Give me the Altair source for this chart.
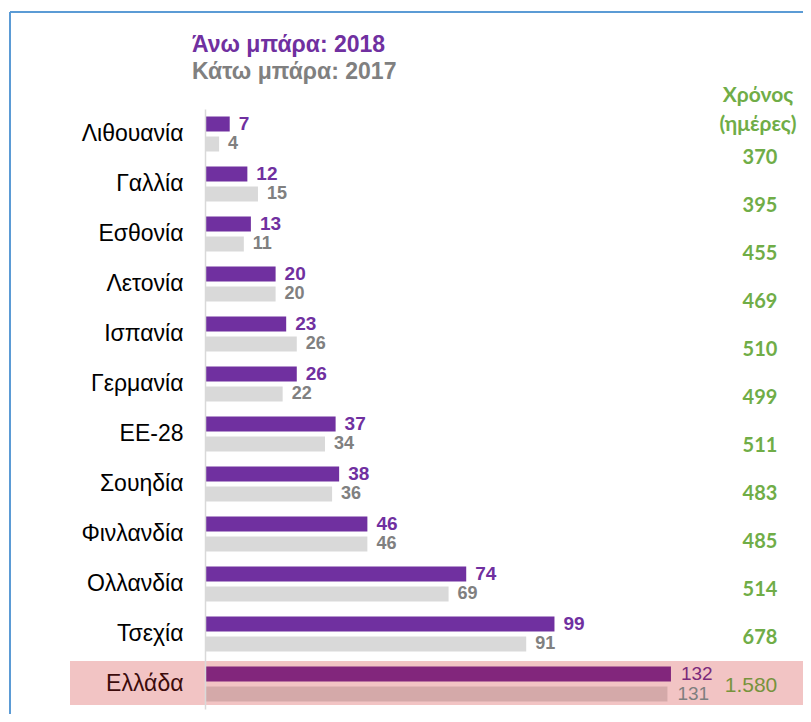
import altair as alt
import pandas as pd

countries = ["Λιθουανία", "Γαλλία", "Εσθονία", "Λετονία", "Ισπανία", "Γερμανία",
             "ΕΕ-28", "Σουηδία", "Φινλανδία", "Ολλανδία", "Τσεχία", "Ελλάδα"]
v2018 = [7, 12, 13, 20, 23, 26, 37, 38, 46, 74, 99, 132]
v2017 = [4, 15, 11, 20, 26, 22, 34, 36, 46, 69, 91, 131]
days = ["370", "395", "455", "469", "510", "499", "511", "483", "485", "514", "678", "1.580"]
legend_lines = ["Άνω μπάρα: 2018", "Κάτω μπάρα: 2017"]
days_header = ["Χρόνος", "(ημέρες)"]
highlight = "Ελλάδα"

rows = []
for c, a, b in zip(countries, v2018, v2017):
    rows.append({"country": c, "year": "2018", "value": a})
    rows.append({"country": c, "year": "2017", "value": b})
long = pd.DataFrame(rows)
long["key"] = long["year"] + long["country"].map(lambda c: "_gr" if c == highlight else "")
days_df = pd.DataFrame({"country": countries, "days": days})

W, H = 596, 600
PR, PB = 2, 5
xs = alt.Scale(domain=[0, W / 3.53], nice=False, zero=True)
ys = alt.Scale(domain=countries, paddingInner=0, paddingOuter=0)
yo = alt.Scale(domain=["2018", "2017"], paddingInner=0.25, paddingOuter=0.375)

FONT = "Liberation Sans"
GFONT = "Lato"

base = alt.Chart(long)

hl = alt.Chart(pd.DataFrame({"country": [highlight]})).mark_bar(
    color="#f2c4c4", size=44, yOffset=-1
).encode(
    y=alt.Y("country:N", scale=ys, axis=None),
    x=alt.value(-135), x2=alt.value(W + PR),
)

bars = base.mark_bar().encode(
    x=alt.X("value:Q", scale=xs, axis=None),
    y=alt.Y("country:N", scale=ys, sort=countries,
            axis=alt.Axis(title=None, ticks=False, grid=False, domainColor="#d9d9d9",
                          domainWidth=1.5, labelFont=FONT, labelFontSize=23, labelPadding=22,
                          zindex=1,
                          labelColor=alt.condition(alt.datum.value == highlight,
                                                   alt.value("#3c0b0b"), alt.value("#000000")))),
    yOffset=alt.YOffset("year:N", scale=yo),
    color=alt.Color("key:N", legend=None,
                    scale=alt.Scale(domain=["2018", "2017", "2018_gr", "2017_gr"],
                                    range=["#7030a0", "#d9d9d9", "#82267c", "#d4a9a9"])),
)

lab = base.transform_filter(alt.datum.country != highlight).transform_calculate(
    fs="datum.year == '2018' ? 19 : 18"
).mark_text(
    align="left", baseline="middle", dx=9, font=FONT, fontWeight="bold"
).encode(
    x=alt.X("value:Q", scale=xs, axis=None), y=alt.Y("country:N", scale=ys, axis=None),
    yOffset=alt.YOffset("year:N", scale=yo),
    text="value:Q",
    size=alt.Size("fs:Q", scale=None, legend=None),
    color=alt.Color("year:N", legend=None,
                    scale=alt.Scale(domain=["2018", "2017"], range=["#7030a0", "#808080"])),
)

lab_gr = base.transform_filter(alt.datum.country == highlight).mark_text(
    align="left", baseline="middle", dx=10, font=FONT, fontSize=19
).encode(
    x=alt.X("value:Q", scale=xs, axis=None), y=alt.Y("country:N", scale=ys, axis=None),
    yOffset=alt.YOffset("year:N", scale=yo),
    text="value:Q",
    color=alt.Color("year:N", legend=None,
                    scale=alt.Scale(domain=["2018", "2017"], range=["#7b2a7b", "#7f7f7f"])),
)

gys = alt.Scale(domain=countries, range=[25, 601], paddingInner=0, paddingOuter=0)
green = alt.Chart(days_df).transform_filter(alt.datum.country != highlight).mark_text(
    align="center", baseline="middle", font=GFONT, fontWeight="bold", fontSize=20, color="#70ad47"
).encode(
    x=alt.value(555), y=alt.Y("country:N", scale=gys, axis=None), text="days:N"
)
green_gr = alt.Chart(days_df).transform_filter(alt.datum.country == highlight).mark_text(
    align="center", baseline="middle", font=FONT, fontSize=21, color="#77933c"
).encode(
    x=alt.value(546), y=alt.Y("country:N", scale=gys, axis=None), text="days:N"
)

hdr = alt.Chart(pd.DataFrame({"t": days_header, "i": [0, 1]})).mark_text(
    align="center", baseline="middle", font=GFONT, fontWeight="bold", fontSize=21, color="#70ad47"
).encode(
    x=alt.value(553),
    y=alt.Y("i:Q", scale=alt.Scale(domain=[0, 1], range=[-13, 16]), axis=None),
    text="t:N"
)

leg = alt.Chart(pd.DataFrame({"t": legend_lines, "i": [0, 1], "yr": ["2018", "2017"]})).mark_text(
    align="left", baseline="middle", font=FONT, fontWeight="bold", fontSize=23
).encode(
    x=alt.value(-13),
    y=alt.Y("i:Q", scale=alt.Scale(domain=[0, 1], range=[-64, -37]), axis=None),
    text="t:N",
    color=alt.Color("yr:N", legend=None,
                    scale=alt.Scale(domain=["2018", "2017"], range=["#7030a0", "#808080"])),
)

one = pd.DataFrame({"a": [0]})
frame_top = alt.Chart(one).mark_rule(color="#5b9bd5", strokeWidth=2).encode(
    x=alt.value(-195), x2=alt.value(W + PR), y=alt.value(-97)
)
frame_left = alt.Chart(one).mark_rule(color="#5b9bd5", strokeWidth=2).encode(
    x=alt.value(-195), y=alt.value(-97), y2=alt.value(H + PB)
)

chart = alt.layer(
    hl, bars, lab, lab_gr, green, green_gr, hdr, leg, frame_top, frame_left
).resolve_scale(y="independent", color="independent").properties(
    width=W, height=H,
    autosize=alt.AutoSizeParams(type="none"),
    padding={"left": 197, "top": 101, "right": PR, "bottom": PB},
).configure_view(stroke=None)

chart.save("out.html", embed_options={"renderer": "svg", "actions": False})
